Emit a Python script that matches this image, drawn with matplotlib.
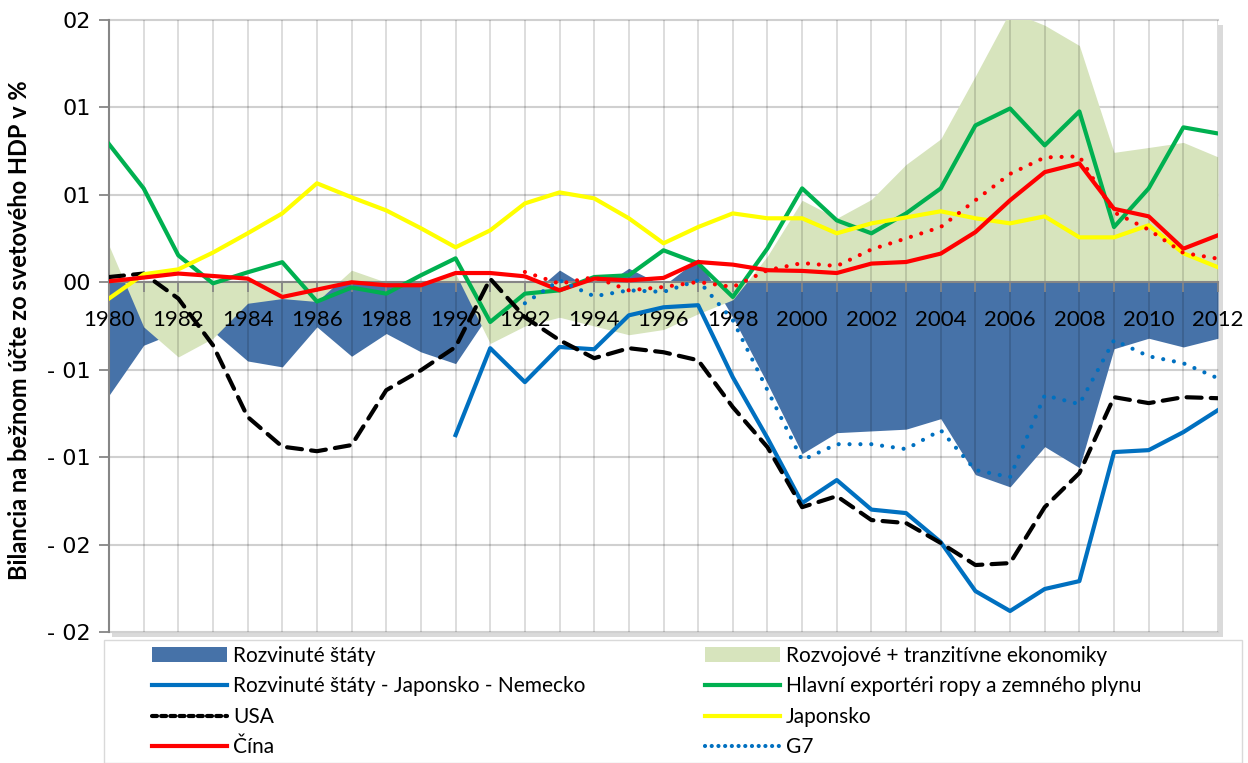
import matplotlib
matplotlib.use("Agg")
import matplotlib.pyplot as plt
import numpy as np
from matplotlib.patches import Patch, Rectangle
from matplotlib.lines import Line2D

plt.rcParams['font.family'] = ['Lato', 'DejaVu Sans']

years = np.arange(1980, 2013)
nan = np.nan

# plochy
rozvinute = [-0.646, -0.36, -0.28, -0.28, -0.45, -0.484, -0.255, -0.423, -0.293, -0.398,
             -0.465, -0.17, -0.1, 0.07, -0.05, 0.08, -0.02, 0.135, -0.2, -0.58,
             -0.98, -0.86, -0.85, -0.84, -0.78, -1.10, -1.17, -0.94, -1.06, -0.38,
             -0.32, -0.37, -0.32]
rozvojove = [0.21, -0.255, -0.427, -0.32, -0.12, -0.093, -0.11, 0.069, 0.0, 0.0,
             0.05, -0.35, -0.25, -0.2, -0.25, -0.3, -0.27, -0.18, -0.1, 0.15,
             0.469, 0.366, 0.474, 0.674, 0.82, 1.18, 1.55, 1.47, 1.354, 0.743,
             0.771, 0.80, 0.717]

# ciary
rozv_bez_jn = [nan] * 10 + [-0.874, -0.377, -0.571, -0.37, -0.383, -0.189, -0.143, -0.131, -0.543, -0.891,
                            -1.263, -1.131, -1.30, -1.32, -1.486, -1.766, -1.88, -1.754, -1.709, -0.971,
                            -0.96, -0.857, -0.731]
exporteri = [0.79, 0.537, 0.154, -0.006, 0.057, 0.115, -0.11, -0.03, -0.065, 0.04,
             0.137, -0.227, -0.065, -0.046, 0.03, 0.04, 0.183, 0.108, -0.084, 0.194,
             0.537, 0.354, 0.28, 0.394, 0.537, 0.897, 0.994, 0.783, 0.977, 0.316,
             0.537, 0.886, 0.851]
usa = [0.03, 0.05, -0.093, -0.36, -0.77, -0.94, -0.966, -0.931, -0.617, -0.503,
       -0.37, 0.02, -0.2, -0.331, -0.434, -0.377, -0.4, -0.446, -0.714, -0.943,
       -1.286, -1.223, -1.36, -1.377, -1.491, -1.617, -1.606, -1.286, -1.091, -0.657,
       -0.691, -0.657, -0.663]
japonsko = [-0.093, 0.046, 0.074, 0.17, 0.28, 0.394, 0.566, 0.486, 0.411, 0.309,
            0.2, 0.297, 0.451, 0.514, 0.48, 0.366, 0.223, 0.316, 0.394, 0.366,
            0.366, 0.28, 0.337, 0.371, 0.406, 0.366, 0.337, 0.377, 0.257, 0.257,
            0.326, 0.166, 0.086]
cina = [0.006, 0.027, 0.05, 0.036, 0.021, -0.084, -0.042, 0.0, -0.017, -0.017,
        0.053, 0.053, 0.034, -0.046, 0.021, 0.011, 0.025, 0.116, 0.101, 0.069,
        0.065, 0.053, 0.107, 0.116, 0.164, 0.287, 0.469, 0.63, 0.68, 0.42,
        0.377, 0.192, 0.269]
g7 = [nan] * 12 + [-0.12, 0.011, -0.08, -0.046, -0.055, 0.011, -0.217, -0.617,
                   -1.017, -0.926, -0.926, -0.954, -0.846, -1.074, -1.114, -0.646, -0.697, -0.331,
                   -0.423, -0.463, -0.549]
cina_bodky = [nan] * 12 + [0.059, -0.008, 0.03, -0.046, -0.027, 0.002, -0.027, 0.069,
                           0.11, 0.093, 0.188, 0.251, 0.316, 0.469, 0.62, 0.714, 0.72, 0.4,
                           0.301, 0.168, 0.135]

ytick_vals = [-2.0, -1.5, -1.0, -0.5, 0.0, 0.5, 1.0, 1.5]
ytick_labels = ['- 02', '- 02', '- 01', '- 01', '00', '01', '01', '02']

W, H = 1248, 763
fig = plt.figure(figsize=(W / 100, H / 100), dpi=100)
L, R, T, B = 109, 1218, 20, 632
ax = fig.add_axes([L / W, 1 - B / H, (R - L) / W, (B - T) / H])
ax.set_zorder(2)

# tien plochy grafu
fig.patches.append(Rectangle(((L + 3) / W, 1 - (B + 5) / H), (R - L + 2) / W, (B - T) / H,
                             transform=fig.transFigure, facecolor='#dadada',
                             edgecolor='none', zorder=0))

blue_area = '#4672A8'
green_area = '#D7E4BD'
ax.fill_between(years, 0, rozvinute, color=blue_area, linewidth=0, zorder=1)
ax.fill_between(years, 0, rozvojove, color=green_area, linewidth=0, zorder=1.1)

for yv in ytick_vals:
    ax.axhline(yv, color='#D0D0D0', linewidth=1.5, zorder=0.5, clip_on=False)
for yv in years:
    ax.axvline(yv, color='black', alpha=0.15, linewidth=1.3, zorder=1.5)

lw = 3
ax.plot(years, rozv_bez_jn, color='#0070C0', lw=lw, zorder=3)
ax.plot(years, exporteri, color='#00B050', lw=lw, zorder=3)
ax.plot(years, usa, color='black', lw=lw, linestyle=(0, (3.6, 2.2)), dash_capstyle='round', zorder=3)
ax.plot(years, japonsko, color='#FFFF00', lw=lw, zorder=3)
ax.plot(years, cina, color='#FF0000', lw=lw, zorder=3)
ax.plot(years, g7, color='#0070C0', lw=lw, linestyle=(0, (0.01, 2.6)), dash_capstyle='round', zorder=3)
ax.plot(years, cina_bodky, color='#FF0000', lw=lw, linestyle=(0, (0.01, 2.6)), dash_capstyle='round', zorder=3)

ax.spines['bottom'].set_position(('data', 0))
ax.spines['bottom'].set_color('#868686')
ax.spines['bottom'].set_linewidth(1.5)
ax.spines['left'].set_color('#868686')
ax.spines['left'].set_linewidth(1.5)
ax.spines['top'].set_visible(False)
ax.spines['right'].set_visible(False)

ax.set_xlim(1980, 2012)
ax.set_ylim(-2.0, 1.5)
ax.set_yticks(ytick_vals)
ax.set_yticklabels(ytick_labels, family=['DejaVu Sans'], fontsize=16)
ax.set_xticks(years)
ax.set_xticklabels([str(y) if y % 2 == 0 else '' for y in years], fontsize=16)
ax.tick_params(axis='x', length=7, width=1.3, color='#868686', pad=13)
ax.tick_params(axis='y', length=7, width=1.3, color='#868686', pad=6)

fig.text(20 / W, 1 - 330 / H, 'Bilancia na bežnom účte zo svetového HDP v %',
         rotation=90, ha='center', va='center', fontsize=17, fontweight='bold')

# legenda - ramcek a dva stlpce
fig.patches.append(Rectangle((104 / W, 0), 1138 / W, 1 - 640 / H, transform=fig.transFigure,
                             facecolor='white', edgecolor='#D9D9D9', lw=1.0, zorder=1))

h_left = [
    Patch(facecolor=blue_area),
    Line2D([], [], color='#0070C0', lw=lw),
    Line2D([], [], color='black', lw=lw, linestyle=(0, (1.2, 1.0)), dash_capstyle='round'),
    Line2D([], [], color='#FF0000', lw=lw),
]
l_left = ['Rozvinuté štáty', 'Rozvinuté štáty - Japonsko - Nemecko', 'USA', 'Čína']
h_right = [
    Patch(facecolor=green_area),
    Line2D([], [], color='#00B050', lw=lw),
    Line2D([], [], color='#FFFF00', lw=lw),
    Line2D([], [], color='#0070C0', lw=lw, linestyle=(0, (0.01, 1.6)), dash_capstyle='round'),
]
l_right = ['Rozvojové + tranzitívne ekonomiky', 'Hlavní exportéri ropy a zemného plynu',
           'Japonsko', 'G7']

for hh, ll, x0 in [(h_left, l_left, 152), (h_right, l_right, 705)]:
    lg = fig.legend(hh, ll, loc='upper left', bbox_to_anchor=(x0 / W, 1 - 646 / H),
                    fontsize=15, handlelength=3.6, handletextpad=0.3, labelspacing=0.5,
                    borderpad=0.0, borderaxespad=0, frameon=False)
    lg.set_zorder(3)

fig.savefig('out.png', dpi=100, facecolor='white')
